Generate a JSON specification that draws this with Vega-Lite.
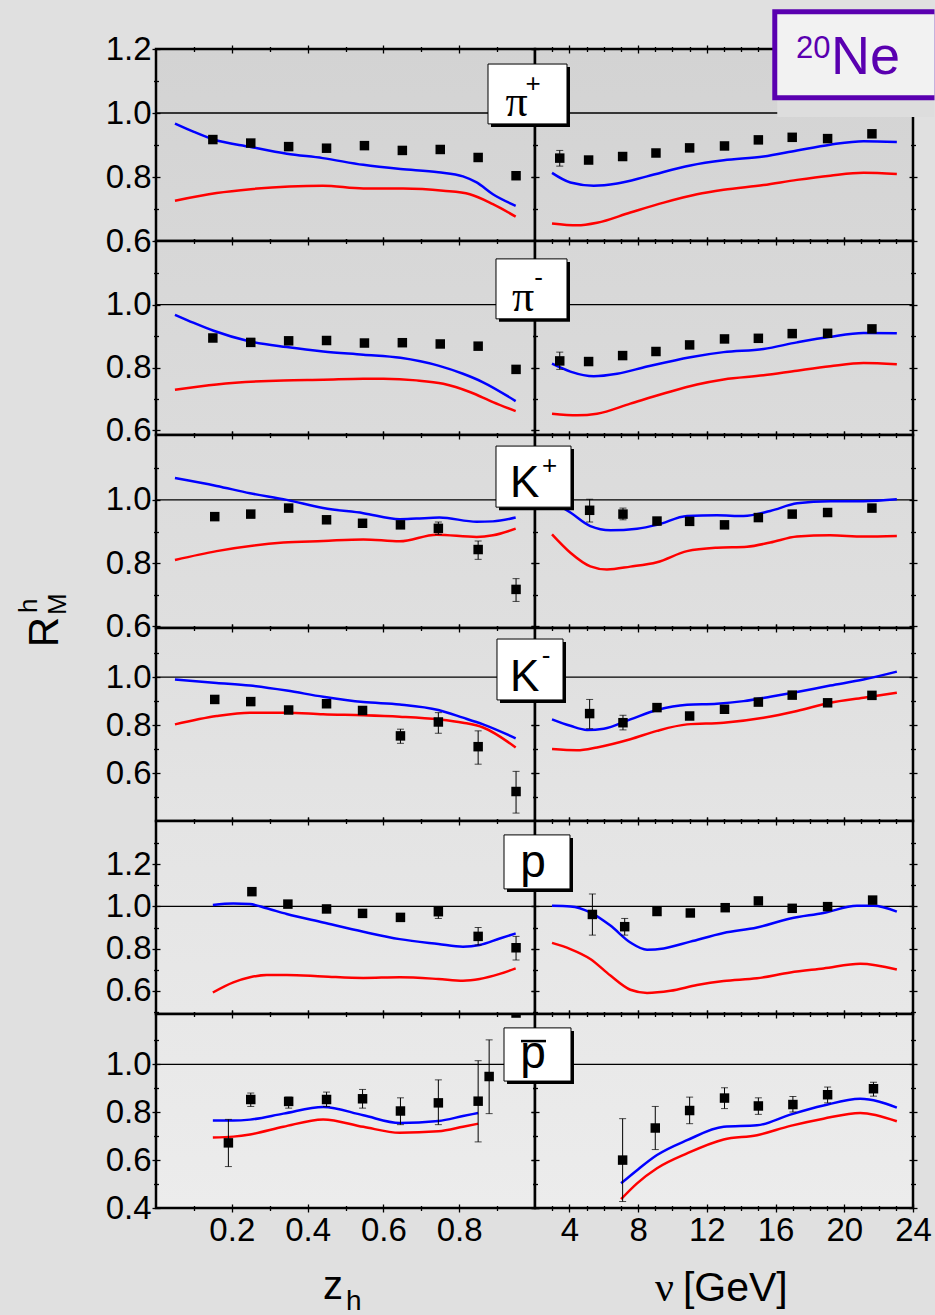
{
"$schema":"https://vega.github.io/schema/vega-lite/v6.json",
"background":"#e0e0e0",
"padding":{"left":14,"top":8,"right":0,"bottom":0},
"config":{
 "axis":{"domain":false,"grid":false,"tickColor":"black","tickWidth":1.3,"labelFont":"Liberation Sans","labelFontSize":33,"labelColor":"black","labelFlush":false,"labelOverlap":false,"labelBound":false},
 "concat":{"spacing":0},
 "line":{"strokeWidth":2.5,"interpolate":"monotone"}
},
"datasets":{
"pts":[
{"p":1,"s":"L","x":0.15,"y":0.917},{"p":1,"s":"L","x":0.25,"y":0.906},{"p":1,"s":"L","x":0.35,"y":0.895},{"p":1,"s":"L","x":0.45,"y":0.89},{"p":1,"s":"L","x":0.55,"y":0.898},{"p":1,"s":"L","x":0.65,"y":0.883},{"p":1,"s":"L","x":0.75,"y":0.886},{"p":1,"s":"L","x":0.85,"y":0.861},{"p":1,"s":"L","x":0.95,"y":0.804},
{"p":1,"s":"R","x":3.44,"y":0.859,"lo":0.834,"hi":0.883},{"p":1,"s":"R","x":5.12,"y":0.853},{"p":1,"s":"R","x":7.1,"y":0.864},{"p":1,"s":"R","x":9.04,"y":0.875},{"p":1,"s":"R","x":11.0,"y":0.891},{"p":1,"s":"R","x":13.03,"y":0.897},{"p":1,"s":"R","x":15.0,"y":0.916},{"p":1,"s":"R","x":16.97,"y":0.924},{"p":1,"s":"R","x":19.03,"y":0.92},{"p":1,"s":"R","x":21.61,"y":0.935},
{"p":2,"s":"L","x":0.15,"y":0.894},{"p":2,"s":"L","x":0.25,"y":0.88},{"p":2,"s":"L","x":0.35,"y":0.885},{"p":2,"s":"L","x":0.45,"y":0.886},{"p":2,"s":"L","x":0.55,"y":0.878},{"p":2,"s":"L","x":0.65,"y":0.879},{"p":2,"s":"L","x":0.75,"y":0.875},{"p":2,"s":"L","x":0.85,"y":0.868},{"p":2,"s":"L","x":0.95,"y":0.794},
{"p":2,"s":"R","x":3.44,"y":0.821,"lo":0.794,"hi":0.849},{"p":2,"s":"R","x":5.12,"y":0.819},{"p":2,"s":"R","x":7.1,"y":0.838},{"p":2,"s":"R","x":9.04,"y":0.851},{"p":2,"s":"R","x":11.0,"y":0.872},{"p":2,"s":"R","x":13.03,"y":0.891},{"p":2,"s":"R","x":15.0,"y":0.893},{"p":2,"s":"R","x":16.97,"y":0.908},{"p":2,"s":"R","x":19.03,"y":0.909},{"p":2,"s":"R","x":21.61,"y":0.923},
{"p":3,"s":"L","x":0.155,"y":0.947},{"p":3,"s":"L","x":0.25,"y":0.955},{"p":3,"s":"L","x":0.35,"y":0.974},{"p":3,"s":"L","x":0.45,"y":0.937},{"p":3,"s":"L","x":0.545,"y":0.926},{"p":3,"s":"L","x":0.645,"y":0.921},{"p":3,"s":"L","x":0.745,"y":0.91,"lo":0.891,"hi":0.93},{"p":3,"s":"L","x":0.85,"y":0.843,"lo":0.812,"hi":0.87},{"p":3,"s":"L","x":0.95,"y":0.717,"lo":0.679,"hi":0.751},
{"p":3,"s":"R","x":5.18,"y":0.967,"lo":0.93,"hi":1.002},{"p":3,"s":"R","x":7.12,"y":0.955,"lo":0.937,"hi":0.974},{"p":3,"s":"R","x":9.1,"y":0.933},{"p":3,"s":"R","x":11.0,"y":0.932},{"p":3,"s":"R","x":13.03,"y":0.921},{"p":3,"s":"R","x":15.0,"y":0.944},{"p":3,"s":"R","x":16.97,"y":0.955},{"p":3,"s":"R","x":19.03,"y":0.96},{"p":3,"s":"R","x":21.61,"y":0.974},
{"p":4,"s":"L","x":0.155,"y":0.907},{"p":4,"s":"L","x":0.25,"y":0.898},{"p":4,"s":"L","x":0.35,"y":0.863},{"p":4,"s":"L","x":0.45,"y":0.889},{"p":4,"s":"L","x":0.545,"y":0.861},{"p":4,"s":"L","x":0.645,"y":0.755,"lo":0.724,"hi":0.783},{"p":4,"s":"L","x":0.745,"y":0.813,"lo":0.766,"hi":0.852},{"p":4,"s":"L","x":0.85,"y":0.71,"lo":0.637,"hi":0.776},{"p":4,"s":"L","x":0.95,"y":0.523,"lo":0.433,"hi":0.607},
{"p":4,"s":"R","x":5.18,"y":0.848,"lo":0.785,"hi":0.907},{"p":4,"s":"R","x":7.12,"y":0.81,"lo":0.78,"hi":0.841},{"p":4,"s":"R","x":9.1,"y":0.873},{"p":4,"s":"R","x":11.0,"y":0.838},{"p":4,"s":"R","x":13.03,"y":0.866},{"p":4,"s":"R","x":15.0,"y":0.896},{"p":4,"s":"R","x":16.97,"y":0.925},{"p":4,"s":"R","x":19.03,"y":0.893},{"p":4,"s":"R","x":21.61,"y":0.924},
{"p":5,"s":"L","x":0.253,"y":1.07},{"p":5,"s":"L","x":0.348,"y":1.011},{"p":5,"s":"L","x":0.45,"y":0.988},{"p":5,"s":"L","x":0.545,"y":0.967},{"p":5,"s":"L","x":0.645,"y":0.948},{"p":5,"s":"L","x":0.745,"y":0.975,"lo":0.943,"hi":0.995},{"p":5,"s":"L","x":0.85,"y":0.858,"lo":0.817,"hi":0.9},{"p":5,"s":"L","x":0.95,"y":0.804,"lo":0.746,"hi":0.858},
{"p":5,"s":"R","x":5.34,"y":0.962,"lo":0.864,"hi":1.059},{"p":5,"s":"R","x":7.22,"y":0.904,"lo":0.864,"hi":0.943},{"p":5,"s":"R","x":9.1,"y":0.976},{"p":5,"s":"R","x":11.04,"y":0.969},{"p":5,"s":"R","x":13.07,"y":0.994},{"p":5,"s":"R","x":15.0,"y":1.026},{"p":5,"s":"R","x":16.97,"y":0.991},{"p":5,"s":"R","x":19.03,"y":0.999},{"p":5,"s":"R","x":21.65,"y":1.03},
{"p":6,"s":"L","x":0.191,"y":0.672,"lo":0.573,"hi":0.77},{"p":6,"s":"L","x":0.25,"y":0.853,"lo":0.824,"hi":0.88},{"p":6,"s":"L","x":0.35,"y":0.845,"lo":0.817,"hi":0.863},{"p":6,"s":"L","x":0.45,"y":0.853,"lo":0.824,"hi":0.884},{"p":6,"s":"L","x":0.545,"y":0.856,"lo":0.817,"hi":0.895},{"p":6,"s":"L","x":0.645,"y":0.805,"lo":0.748,"hi":0.86},{"p":6,"s":"L","x":0.745,"y":0.839,"lo":0.748,"hi":0.935},{"p":6,"s":"L","x":0.85,"y":0.846,"lo":0.676,"hi":1.015},{"p":6,"s":"L","x":0.879,"y":0.949,"lo":0.794,"hi":1.102},{"p":6,"s":"L","x":0.95,"y":1.214},
{"p":6,"s":"R","x":7.1,"y":0.6,"lo":0.427,"hi":0.773},{"p":6,"s":"R","x":9.0,"y":0.734,"lo":0.644,"hi":0.824},{"p":6,"s":"R","x":11.0,"y":0.807,"lo":0.752,"hi":0.863},{"p":6,"s":"R","x":13.03,"y":0.859,"lo":0.815,"hi":0.902},{"p":6,"s":"R","x":15.0,"y":0.826,"lo":0.791,"hi":0.86},{"p":6,"s":"R","x":17.01,"y":0.832,"lo":0.801,"hi":0.866},{"p":6,"s":"R","x":19.03,"y":0.873,"lo":0.839,"hi":0.905},{"p":6,"s":"R","x":21.7,"y":0.898,"lo":0.867,"hi":0.925}
],
"lines":[
{"p":1,"s":"L","m":"b","x":0.05,"y":0.967},{"p":1,"s":"L","m":"b","x":0.1,"y":0.941},{"p":1,"s":"L","m":"b","x":0.15,"y":0.918},{"p":1,"s":"L","m":"b","x":0.25,"y":0.894},{"p":1,"s":"L","m":"b","x":0.345,"y":0.873},{"p":1,"s":"L","m":"b","x":0.44,"y":0.859},{"p":1,"s":"L","m":"b","x":0.547,"y":0.838},{"p":1,"s":"L","m":"b","x":0.645,"y":0.825},{"p":1,"s":"L","m":"b","x":0.745,"y":0.815},{"p":1,"s":"L","m":"b","x":0.81,"y":0.802},{"p":1,"s":"L","m":"b","x":0.846,"y":0.783},{"p":1,"s":"L","m":"b","x":0.889,"y":0.746},{"p":1,"s":"L","m":"b","x":0.949,"y":0.71},
{"p":1,"s":"L","m":"r","x":0.05,"y":0.726},{"p":1,"s":"L","m":"r","x":0.16,"y":0.75},{"p":1,"s":"L","m":"r","x":0.25,"y":0.762},{"p":1,"s":"L","m":"r","x":0.44,"y":0.773},{"p":1,"s":"L","m":"r","x":0.547,"y":0.764},{"p":1,"s":"L","m":"r","x":0.652,"y":0.764},{"p":1,"s":"L","m":"r","x":0.758,"y":0.757},{"p":1,"s":"L","m":"r","x":0.828,"y":0.746},{"p":1,"s":"L","m":"r","x":0.889,"y":0.715},{"p":1,"s":"L","m":"r","x":0.949,"y":0.676},
{"p":1,"s":"R","m":"b","x":2.99,"y":0.813},{"p":1,"s":"R","m":"b","x":4.06,"y":0.783},{"p":1,"s":"R","m":"b","x":5.42,"y":0.773},{"p":1,"s":"R","m":"b","x":6.78,"y":0.78},{"p":1,"s":"R","m":"b","x":8.52,"y":0.802},{"p":1,"s":"R","m":"b","x":11.04,"y":0.836},{"p":1,"s":"R","m":"b","x":12.98,"y":0.852},{"p":1,"s":"R","m":"b","x":15.3,"y":0.864},{"p":1,"s":"R","m":"b","x":17.25,"y":0.883},{"p":1,"s":"R","m":"b","x":19.18,"y":0.901},{"p":1,"s":"R","m":"b","x":21.12,"y":0.912},{"p":1,"s":"R","m":"b","x":23.06,"y":0.909},
{"p":1,"s":"R","m":"r","x":2.99,"y":0.655},{"p":1,"s":"R","m":"r","x":4.45,"y":0.649},{"p":1,"s":"R","m":"r","x":5.61,"y":0.657},{"p":1,"s":"R","m":"r","x":7.55,"y":0.689},{"p":1,"s":"R","m":"r","x":9.49,"y":0.72},{"p":1,"s":"R","m":"r","x":11.43,"y":0.746},{"p":1,"s":"R","m":"r","x":12.98,"y":0.76},{"p":1,"s":"R","m":"r","x":15.3,"y":0.775},{"p":1,"s":"R","m":"r","x":17.25,"y":0.791},{"p":1,"s":"R","m":"r","x":19.18,"y":0.804},{"p":1,"s":"R","m":"r","x":21.12,"y":0.813},{"p":1,"s":"R","m":"r","x":23.06,"y":0.809},
{"p":2,"s":"L","m":"b","x":0.05,"y":0.968},{"p":2,"s":"L","m":"b","x":0.1,"y":0.942},{"p":2,"s":"L","m":"b","x":0.152,"y":0.917},{"p":2,"s":"L","m":"b","x":0.248,"y":0.883},{"p":2,"s":"L","m":"b","x":0.345,"y":0.865},{"p":2,"s":"L","m":"b","x":0.441,"y":0.851},{"p":2,"s":"L","m":"b","x":0.547,"y":0.841},{"p":2,"s":"L","m":"b","x":0.645,"y":0.831},{"p":2,"s":"L","m":"b","x":0.745,"y":0.806},{"p":2,"s":"L","m":"b","x":0.81,"y":0.78},{"p":2,"s":"L","m":"b","x":0.863,"y":0.753},{"p":2,"s":"L","m":"b","x":0.949,"y":0.693},
{"p":2,"s":"L","m":"r","x":0.05,"y":0.729},{"p":2,"s":"L","m":"r","x":0.16,"y":0.746},{"p":2,"s":"L","m":"r","x":0.336,"y":0.759},{"p":2,"s":"L","m":"r","x":0.441,"y":0.761},{"p":2,"s":"L","m":"r","x":0.547,"y":0.764},{"p":2,"s":"L","m":"r","x":0.6,"y":0.764},{"p":2,"s":"L","m":"r","x":0.687,"y":0.759},{"p":2,"s":"L","m":"r","x":0.758,"y":0.748},{"p":2,"s":"L","m":"r","x":0.828,"y":0.722},{"p":2,"s":"L","m":"r","x":0.889,"y":0.69},{"p":2,"s":"L","m":"r","x":0.949,"y":0.661},
{"p":2,"s":"R","m":"b","x":2.99,"y":0.812},{"p":2,"s":"R","m":"b","x":4.06,"y":0.787},{"p":2,"s":"R","m":"b","x":5.42,"y":0.772},{"p":2,"s":"R","m":"b","x":6.78,"y":0.78},{"p":2,"s":"R","m":"b","x":8.52,"y":0.803},{"p":2,"s":"R","m":"b","x":11.04,"y":0.833},{"p":2,"s":"R","m":"b","x":12.98,"y":0.849},{"p":2,"s":"R","m":"b","x":15.3,"y":0.859},{"p":2,"s":"R","m":"b","x":17.25,"y":0.88},{"p":2,"s":"R","m":"b","x":19.18,"y":0.898},{"p":2,"s":"R","m":"b","x":21.12,"y":0.91},{"p":2,"s":"R","m":"b","x":23.06,"y":0.909},
{"p":2,"s":"R","m":"r","x":2.99,"y":0.653},{"p":2,"s":"R","m":"r","x":4.45,"y":0.648},{"p":2,"s":"R","m":"r","x":5.61,"y":0.653},{"p":2,"s":"R","m":"r","x":7.55,"y":0.685},{"p":2,"s":"R","m":"r","x":9.49,"y":0.717},{"p":2,"s":"R","m":"r","x":11.43,"y":0.746},{"p":2,"s":"R","m":"r","x":12.98,"y":0.762},{"p":2,"s":"R","m":"r","x":15.3,"y":0.775},{"p":2,"s":"R","m":"r","x":17.25,"y":0.79},{"p":2,"s":"R","m":"r","x":19.18,"y":0.804},{"p":2,"s":"R","m":"r","x":21.12,"y":0.814},{"p":2,"s":"R","m":"r","x":23.06,"y":0.81},
{"p":3,"s":"L","m":"b","x":0.05,"y":1.069},{"p":3,"s":"L","m":"b","x":0.16,"y":1.044},{"p":3,"s":"L","m":"b","x":0.248,"y":1.021},{"p":3,"s":"L","m":"b","x":0.345,"y":1.0},{"p":3,"s":"L","m":"b","x":0.441,"y":0.974},{"p":3,"s":"L","m":"b","x":0.547,"y":0.958},{"p":3,"s":"L","m":"b","x":0.643,"y":0.939},{"p":3,"s":"L","m":"b","x":0.687,"y":0.941},{"p":3,"s":"L","m":"b","x":0.748,"y":0.944},{"p":3,"s":"L","m":"b","x":0.846,"y":0.931},{"p":3,"s":"L","m":"b","x":0.889,"y":0.932},{"p":3,"s":"L","m":"b","x":0.949,"y":0.944},
{"p":3,"s":"L","m":"r","x":0.05,"y":0.81},{"p":3,"s":"L","m":"r","x":0.16,"y":0.838},{"p":3,"s":"L","m":"r","x":0.336,"y":0.865},{"p":3,"s":"L","m":"r","x":0.441,"y":0.87},{"p":3,"s":"L","m":"r","x":0.547,"y":0.875},{"p":3,"s":"L","m":"r","x":0.643,"y":0.869},{"p":3,"s":"L","m":"r","x":0.74,"y":0.89},{"p":3,"s":"L","m":"r","x":0.846,"y":0.883},{"p":3,"s":"L","m":"r","x":0.889,"y":0.888},{"p":3,"s":"L","m":"r","x":0.949,"y":0.909},
{"p":3,"s":"R","m":"b","x":2.99,"y":0.995},{"p":3,"s":"R","m":"b","x":4.06,"y":0.96},{"p":3,"s":"R","m":"b","x":5.22,"y":0.917},{"p":3,"s":"R","m":"b","x":6.39,"y":0.904},{"p":3,"s":"R","m":"b","x":7.94,"y":0.909},{"p":3,"s":"R","m":"b","x":9.1,"y":0.921},{"p":3,"s":"R","m":"b","x":10.85,"y":0.949},{"p":3,"s":"R","m":"b","x":12.59,"y":0.951},{"p":3,"s":"R","m":"b","x":14.14,"y":0.949},{"p":3,"s":"R","m":"b","x":15.69,"y":0.965},{"p":3,"s":"R","m":"b","x":17.25,"y":0.989},{"p":3,"s":"R","m":"b","x":19.18,"y":0.996},{"p":3,"s":"R","m":"b","x":21.12,"y":0.996},{"p":3,"s":"R","m":"b","x":23.06,"y":1.002},
{"p":3,"s":"R","m":"r","x":2.99,"y":0.891},{"p":3,"s":"R","m":"r","x":4.06,"y":0.833},{"p":3,"s":"R","m":"r","x":5.22,"y":0.79},{"p":3,"s":"R","m":"r","x":6.19,"y":0.78},{"p":3,"s":"R","m":"r","x":7.55,"y":0.789},{"p":3,"s":"R","m":"r","x":9.1,"y":0.803},{"p":3,"s":"R","m":"r","x":10.85,"y":0.838},{"p":3,"s":"R","m":"r","x":12.59,"y":0.849},{"p":3,"s":"R","m":"r","x":14.34,"y":0.852},{"p":3,"s":"R","m":"r","x":15.69,"y":0.865},{"p":3,"s":"R","m":"r","x":17.25,"y":0.884},{"p":3,"s":"R","m":"r","x":19.18,"y":0.888},{"p":3,"s":"R","m":"r","x":21.12,"y":0.884},{"p":3,"s":"R","m":"r","x":23.06,"y":0.886},
{"p":4,"s":"L","m":"b","x":0.05,"y":0.99},{"p":4,"s":"L","m":"b","x":0.16,"y":0.976},{"p":4,"s":"L","m":"b","x":0.248,"y":0.965},{"p":4,"s":"L","m":"b","x":0.345,"y":0.944},{"p":4,"s":"L","m":"b","x":0.441,"y":0.918},{"p":4,"s":"L","m":"b","x":0.547,"y":0.896},{"p":4,"s":"L","m":"b","x":0.643,"y":0.886},{"p":4,"s":"L","m":"b","x":0.745,"y":0.863},{"p":4,"s":"L","m":"b","x":0.81,"y":0.831},{"p":4,"s":"L","m":"b","x":0.863,"y":0.803},{"p":4,"s":"L","m":"b","x":0.949,"y":0.745},
{"p":4,"s":"L","m":"r","x":0.05,"y":0.803},{"p":4,"s":"L","m":"r","x":0.16,"y":0.838},{"p":4,"s":"L","m":"r","x":0.248,"y":0.852},{"p":4,"s":"L","m":"r","x":0.345,"y":0.852},{"p":4,"s":"L","m":"r","x":0.441,"y":0.845},{"p":4,"s":"L","m":"r","x":0.547,"y":0.841},{"p":4,"s":"L","m":"r","x":0.643,"y":0.835},{"p":4,"s":"L","m":"r","x":0.745,"y":0.824},{"p":4,"s":"L","m":"r","x":0.81,"y":0.81},{"p":4,"s":"L","m":"r","x":0.863,"y":0.79},{"p":4,"s":"L","m":"r","x":0.949,"y":0.707},
{"p":4,"s":"R","m":"b","x":2.99,"y":0.824},{"p":4,"s":"R","m":"b","x":4.06,"y":0.797},{"p":4,"s":"R","m":"b","x":5.03,"y":0.78},{"p":4,"s":"R","m":"b","x":6.0,"y":0.785},{"p":4,"s":"R","m":"b","x":7.55,"y":0.824},{"p":4,"s":"R","m":"b","x":9.1,"y":0.863},{"p":4,"s":"R","m":"b","x":10.85,"y":0.885},{"p":4,"s":"R","m":"b","x":12.59,"y":0.889},{"p":4,"s":"R","m":"b","x":14.14,"y":0.9},{"p":4,"s":"R","m":"b","x":15.69,"y":0.918},{"p":4,"s":"R","m":"b","x":17.25,"y":0.938},{"p":4,"s":"R","m":"b","x":19.18,"y":0.965},{"p":4,"s":"R","m":"b","x":21.12,"y":0.99},{"p":4,"s":"R","m":"b","x":23.06,"y":1.023},
{"p":4,"s":"R","m":"r","x":2.99,"y":0.7},{"p":4,"s":"R","m":"r","x":4.45,"y":0.695},{"p":4,"s":"R","m":"r","x":5.61,"y":0.707},{"p":4,"s":"R","m":"r","x":7.55,"y":0.741},{"p":4,"s":"R","m":"r","x":9.1,"y":0.776},{"p":4,"s":"R","m":"r","x":10.85,"y":0.803},{"p":4,"s":"R","m":"r","x":12.98,"y":0.81},{"p":4,"s":"R","m":"r","x":15.3,"y":0.831},{"p":4,"s":"R","m":"r","x":17.25,"y":0.859},{"p":4,"s":"R","m":"r","x":19.18,"y":0.893},{"p":4,"s":"R","m":"r","x":21.12,"y":0.914},{"p":4,"s":"R","m":"r","x":23.06,"y":0.935},
{"p":5,"s":"L","m":"b","x":0.15,"y":1.007},{"p":5,"s":"L","m":"b","x":0.204,"y":1.014},{"p":5,"s":"L","m":"b","x":0.248,"y":1.011},{"p":5,"s":"L","m":"b","x":0.292,"y":0.991},{"p":5,"s":"L","m":"b","x":0.345,"y":0.964},{"p":5,"s":"L","m":"b","x":0.441,"y":0.924},{"p":5,"s":"L","m":"b","x":0.547,"y":0.88},{"p":5,"s":"L","m":"b","x":0.643,"y":0.845},{"p":5,"s":"L","m":"b","x":0.745,"y":0.822},{"p":5,"s":"L","m":"b","x":0.81,"y":0.809},{"p":5,"s":"L","m":"b","x":0.854,"y":0.817},{"p":5,"s":"L","m":"b","x":0.907,"y":0.848},{"p":5,"s":"L","m":"b","x":0.949,"y":0.872},
{"p":5,"s":"L","m":"r","x":0.15,"y":0.592},{"p":5,"s":"L","m":"r","x":0.204,"y":0.64},{"p":5,"s":"L","m":"r","x":0.248,"y":0.664},{"p":5,"s":"L","m":"r","x":0.292,"y":0.675},{"p":5,"s":"L","m":"r","x":0.345,"y":0.675},{"p":5,"s":"L","m":"r","x":0.441,"y":0.668},{"p":5,"s":"L","m":"r","x":0.547,"y":0.661},{"p":5,"s":"L","m":"r","x":0.643,"y":0.664},{"p":5,"s":"L","m":"r","x":0.745,"y":0.656},{"p":5,"s":"L","m":"r","x":0.81,"y":0.648},{"p":5,"s":"L","m":"r","x":0.854,"y":0.656},{"p":5,"s":"L","m":"r","x":0.907,"y":0.68},{"p":5,"s":"L","m":"r","x":0.949,"y":0.706},
{"p":5,"s":"R","m":"b","x":2.99,"y":1.003},{"p":5,"s":"R","m":"b","x":4.06,"y":1.0},{"p":5,"s":"R","m":"b","x":5.22,"y":0.972},{"p":5,"s":"R","m":"b","x":6.39,"y":0.909},{"p":5,"s":"R","m":"b","x":7.55,"y":0.829},{"p":5,"s":"R","m":"b","x":8.52,"y":0.795},{"p":5,"s":"R","m":"b","x":9.49,"y":0.801},{"p":5,"s":"R","m":"b","x":11.04,"y":0.833},{"p":5,"s":"R","m":"b","x":12.98,"y":0.874},{"p":5,"s":"R","m":"b","x":14.92,"y":0.9},{"p":5,"s":"R","m":"b","x":16.86,"y":0.943},{"p":5,"s":"R","m":"b","x":18.79,"y":0.969},{"p":5,"s":"R","m":"b","x":20.74,"y":1.003},{"p":5,"s":"R","m":"b","x":21.7,"y":1.003},{"p":5,"s":"R","m":"b","x":23.06,"y":0.975},
{"p":5,"s":"R","m":"r","x":2.99,"y":0.827},{"p":5,"s":"R","m":"r","x":4.06,"y":0.798},{"p":5,"s":"R","m":"r","x":5.22,"y":0.751},{"p":5,"s":"R","m":"r","x":6.39,"y":0.672},{"p":5,"s":"R","m":"r","x":7.55,"y":0.605},{"p":5,"s":"R","m":"r","x":8.52,"y":0.59},{"p":5,"s":"R","m":"r","x":9.88,"y":0.6},{"p":5,"s":"R","m":"r","x":11.43,"y":0.627},{"p":5,"s":"R","m":"r","x":12.98,"y":0.646},{"p":5,"s":"R","m":"r","x":14.92,"y":0.659},{"p":5,"s":"R","m":"r","x":16.86,"y":0.687},{"p":5,"s":"R","m":"r","x":18.79,"y":0.706},{"p":5,"s":"R","m":"r","x":20.93,"y":0.728},{"p":5,"s":"R","m":"r","x":23.06,"y":0.701},
{"p":6,"s":"L","m":"b","x":0.15,"y":0.765},{"p":6,"s":"L","m":"b","x":0.204,"y":0.765},{"p":6,"s":"L","m":"b","x":0.248,"y":0.769},{"p":6,"s":"L","m":"b","x":0.336,"y":0.794},{"p":6,"s":"L","m":"b","x":0.441,"y":0.822},{"p":6,"s":"L","m":"b","x":0.547,"y":0.787},{"p":6,"s":"L","m":"b","x":0.643,"y":0.755},{"p":6,"s":"L","m":"b","x":0.745,"y":0.763},{"p":6,"s":"L","m":"b","x":0.81,"y":0.784},{"p":6,"s":"L","m":"b","x":0.85,"y":0.797},
{"p":6,"s":"L","m":"r","x":0.15,"y":0.694},{"p":6,"s":"L","m":"r","x":0.204,"y":0.698},{"p":6,"s":"L","m":"r","x":0.248,"y":0.707},{"p":6,"s":"L","m":"r","x":0.336,"y":0.739},{"p":6,"s":"L","m":"r","x":0.441,"y":0.77},{"p":6,"s":"L","m":"r","x":0.547,"y":0.739},{"p":6,"s":"L","m":"r","x":0.643,"y":0.714},{"p":6,"s":"L","m":"r","x":0.745,"y":0.72},{"p":6,"s":"L","m":"r","x":0.81,"y":0.739},{"p":6,"s":"L","m":"r","x":0.85,"y":0.752},
{"p":6,"s":"R","m":"b","x":7.01,"y":0.503},{"p":6,"s":"R","m":"b","x":7.94,"y":0.558},{"p":6,"s":"R","m":"b","x":9.1,"y":0.621},{"p":6,"s":"R","m":"b","x":10.85,"y":0.683},{"p":6,"s":"R","m":"b","x":12.98,"y":0.739},{"p":6,"s":"R","m":"b","x":14.92,"y":0.745},{"p":6,"s":"R","m":"b","x":16.86,"y":0.79},{"p":6,"s":"R","m":"b","x":18.79,"y":0.828},{"p":6,"s":"R","m":"b","x":20.93,"y":0.856},{"p":6,"s":"R","m":"b","x":23.06,"y":0.819},
{"p":6,"s":"R","m":"r","x":7.01,"y":0.437},{"p":6,"s":"R","m":"r","x":7.94,"y":0.503},{"p":6,"s":"R","m":"r","x":9.1,"y":0.566},{"p":6,"s":"R","m":"r","x":10.85,"y":0.628},{"p":6,"s":"R","m":"r","x":12.98,"y":0.686},{"p":6,"s":"R","m":"r","x":14.92,"y":0.704},{"p":6,"s":"R","m":"r","x":16.86,"y":0.743},{"p":6,"s":"R","m":"r","x":18.79,"y":0.773},{"p":6,"s":"R","m":"r","x":20.93,"y":0.797},{"p":6,"s":"R","m":"r","x":23.06,"y":0.762}
]
},
"columns":2,
"spacing":0,
"bounds":"flush",
"concat":[
{"width":379,"height":192,"view":{"fill":{"gradient":"linear","x1":0,"y1":0,"x2":0,"y2":1,"stops":[{"offset":0,"color":"#d3d3d3"},{"offset":1,"color":"#d7d7d7"}]},"stroke":"black","strokeWidth":2.5},"resolve":{"axis":{"x":"independent","y":"independent"}},
"layer":[
{"data":{"values":[{}]},"mark":{"type":"rule","color":"black","strokeWidth":1.3},"encoding":{"y":{"datum":1,"type":"quantitative","scale":{"domain":[0.6,1.2],"nice":false,"zero":false},"axis":{"orient":"left","values":[0.6,0.8,1.0,1.2],"offset":-4,"tickSize":8,"labels":true,"labelPadding":1,"format":".1f","title":null}}}},
{"data":{"name":"lines"},"transform":[{"filter":"datum.p==1 && datum.s=='L' && datum.m=='b'"}],"mark":{"type":"line","color":"#0000ff"},"encoding":{"x":{"field":"x","type":"quantitative","scale":{"domain":[0,1],"nice":false,"zero":false},"axis":{"orient":"bottom","values":[0.2,0.4,0.6,0.8],"offset":-4,"tickSize":8,"labels":false,"title":null}},"y":{"field":"y","type":"quantitative","scale":{"domain":[0.6,1.2],"nice":false,"zero":false},"axis":{"orient":"right","values":[0.6,0.8,1.0,1.2],"offset":-4,"tickSize":8,"labels":false,"title":null}}}},
{"data":{"name":"lines"},"transform":[{"filter":"datum.p==1 && datum.s=='L' && datum.m=='r'"}],"mark":{"type":"line","color":"#ff0000"},"encoding":{"x":{"field":"x","type":"quantitative","scale":{"domain":[0,1],"nice":false,"zero":false},"axis":{"orient":"top","values":[0.2,0.4,0.6,0.8],"offset":-4,"tickSize":8,"labels":false,"title":null}},"y":{"field":"y","type":"quantitative","scale":{"domain":[0.6,1.2],"nice":false,"zero":false},"axis":{"orient":"left","values":[0.7,0.9,1.1],"offset":-2.5,"tickSize":5,"labels":false,"title":null}}}},
{"data":{"name":"pts"},"transform":[{"filter":"datum.p==1 && datum.s=='L' && isValid(datum.lo)"}],"mark":{"type":"rule","color":"black","strokeWidth":1},"encoding":{"x":{"field":"x","type":"quantitative","scale":{"domain":[0,1],"nice":false,"zero":false},"axis":{"orient":"bottom","values":[0.1,0.3,0.5,0.7,0.9],"offset":-2.5,"tickSize":5,"labels":false,"title":null}},"y":{"field":"lo","type":"quantitative","scale":{"domain":[0.6,1.2],"nice":false,"zero":false},"axis":{"orient":"right","values":[0.7,0.9,1.1],"offset":-2.5,"tickSize":5,"labels":false,"title":null}},"y2":{"field":"hi"}}},
{"data":{"name":"pts"},"transform":[{"filter":"datum.p==1 && datum.s=='L'"}],"mark":{"type":"square","color":"black","size":90,"opacity":1},"encoding":{"x":{"field":"x","type":"quantitative","scale":{"domain":[0,1],"nice":false,"zero":false},"axis":{"orient":"top","values":[0.1,0.3,0.5,0.7,0.9],"offset":-2.5,"tickSize":5,"labels":false,"title":null}},"y":{"field":"y","type":"quantitative","scale":{"domain":[0.6,1.2],"nice":false,"zero":false},"axis":null}}}
]},
{"width":378,"height":192,"view":{"fill":{"gradient":"linear","x1":0,"y1":0,"x2":0,"y2":1,"stops":[{"offset":0,"color":"#d3d3d3"},{"offset":1,"color":"#d7d7d7"}]},"stroke":"black","strokeWidth":2.5},"resolve":{"axis":{"x":"independent","y":"independent"}},
"layer":[
{"data":{"values":[{}]},"mark":{"type":"rule","color":"black","strokeWidth":1.3},"encoding":{"y":{"datum":1,"type":"quantitative","scale":{"domain":[0.6,1.2],"nice":false,"zero":false},"axis":{"orient":"left","values":[0.6,0.8,1.0,1.2],"offset":-4,"tickSize":8,"labels":false,"title":null}}}},
{"data":{"name":"lines"},"transform":[{"filter":"datum.p==1 && datum.s=='R' && datum.m=='b'"}],"mark":{"type":"line","color":"#0000ff"},"encoding":{"x":{"field":"x","type":"quantitative","scale":{"domain":[2,24],"nice":false,"zero":false},"axis":{"orient":"bottom","values":[4,8,12,16,20],"offset":-4,"tickSize":8,"labels":false,"title":null}},"y":{"field":"y","type":"quantitative","scale":{"domain":[0.6,1.2],"nice":false,"zero":false},"axis":{"orient":"right","values":[0.6,0.8,1.0,1.2],"offset":-4,"tickSize":8,"labels":false,"title":null}}}},
{"data":{"name":"lines"},"transform":[{"filter":"datum.p==1 && datum.s=='R' && datum.m=='r'"}],"mark":{"type":"line","color":"#ff0000"},"encoding":{"x":{"field":"x","type":"quantitative","scale":{"domain":[2,24],"nice":false,"zero":false},"axis":{"orient":"top","values":[4,8,12,16,20],"offset":-4,"tickSize":8,"labels":false,"title":null}},"y":{"field":"y","type":"quantitative","scale":{"domain":[0.6,1.2],"nice":false,"zero":false},"axis":{"orient":"left","values":[0.7,0.9,1.1],"offset":-2.5,"tickSize":5,"labels":false,"title":null}}}},
{"data":{"name":"pts"},"transform":[{"filter":"datum.p==1 && datum.s=='R' && isValid(datum.lo)"}],"mark":{"type":"rule","color":"black","strokeWidth":1},"encoding":{"x":{"field":"x","type":"quantitative","scale":{"domain":[2,24],"nice":false,"zero":false},"axis":{"orient":"bottom","values":[3,5,6,7,9,10,11,13,14,15,17,18,19,21,22,23],"offset":-2.5,"tickSize":5,"labels":false,"title":null}},"y":{"field":"lo","type":"quantitative","scale":{"domain":[0.6,1.2],"nice":false,"zero":false},"axis":{"orient":"right","values":[0.7,0.9,1.1],"offset":-2.5,"tickSize":5,"labels":false,"title":null}},"y2":{"field":"hi"}}},
{"data":{"name":"pts"},"transform":[{"filter":"datum.p==1 && datum.s=='R' && isValid(datum.lo)"},{"fold":["lo","hi"],"as":["k","v"]}],"mark":{"type":"tick","orient":"horizontal","size":7,"thickness":1,"color":"black"},"encoding":{"x":{"field":"x","type":"quantitative","scale":{"domain":[2,24],"nice":false,"zero":false},"axis":null},"y":{"field":"v","type":"quantitative","scale":{"domain":[0.6,1.2],"nice":false,"zero":false},"axis":null}}},
{"data":{"name":"pts"},"transform":[{"filter":"datum.p==1 && datum.s=='R'"}],"mark":{"type":"square","color":"black","size":90,"opacity":1},"encoding":{"x":{"field":"x","type":"quantitative","scale":{"domain":[2,24],"nice":false,"zero":false},"axis":{"orient":"top","values":[3,5,6,7,9,10,11,13,14,15,17,18,19,21,22,23],"offset":-2.5,"tickSize":5,"labels":false,"title":null}},"y":{"field":"y","type":"quantitative","scale":{"domain":[0.6,1.2],"nice":false,"zero":false},"axis":null}}},
{"data":{"values":[{}]},"mark":{"type":"rect","fill":"black","xOffset":3,"x2Offset":3,"yOffset":3,"y2Offset":3},"encoding":{"x":{"datum":-0.735,"type":"quantitative","scale":{"domain":[2,24],"nice":false,"zero":false},"axis":null},"x2":{"datum":3.862},"y":{"datum":1.153,"type":"quantitative","scale":{"domain":[0.6,1.2],"nice":false,"zero":false},"axis":null},"y2":{"datum":0.966}}},
{"data":{"values":[{}]},"mark":{"type":"rect","fill":"white","stroke":"black","strokeWidth":1},"encoding":{"x":{"datum":-0.735,"type":"quantitative","scale":{"domain":[2,24],"nice":false,"zero":false},"axis":null},"x2":{"datum":3.862},"y":{"datum":1.153,"type":"quantitative","scale":{"domain":[0.6,1.2],"nice":false,"zero":false},"axis":null},"y2":{"datum":0.966}}},
{"data":{"values":[{}]},"mark":{"type":"text","text":"π","font":"Liberation Serif","fontSize":44,"align":"center","baseline":"alphabetic","color":"black"},"encoding":{"x":{"datum":0.923,"type":"quantitative","scale":{"domain":[2,24],"nice":false,"zero":false},"axis":null},"y":{"datum":0.991,"type":"quantitative","scale":{"domain":[0.6,1.2],"nice":false,"zero":false},"axis":null}}},
{"data":{"values":[{}]},"mark":{"type":"text","text":"+","font":"Liberation Sans","fontSize":26,"align":"center","baseline":"alphabetic","color":"black"},"encoding":{"x":{"datum":1.884,"type":"quantitative","scale":{"domain":[2,24],"nice":false,"zero":false},"axis":null},"y":{"datum":1.066,"type":"quantitative","scale":{"domain":[0.6,1.2],"nice":false,"zero":false},"axis":null}}},
{"data":{"values":[{}]},"mark":{"type":"rect","fill":"#dddddd"},"encoding":{"x":{"datum":16.1,"type":"quantitative","scale":{"domain":[2,24],"nice":false,"zero":false},"axis":null},"x2":{"datum":25.25},"y":{"datum":1.32,"type":"quantitative","scale":{"domain":[0.6,1.2],"nice":false,"zero":false},"axis":null},"y2":{"datum":0.9875}}},
{"data":{"values":[{}]},"mark":{"type":"rect","fill":"#5a00b0"},"encoding":{"x":{"datum":15.81,"type":"quantitative","scale":{"domain":[2,24],"nice":false,"zero":false},"axis":null},"x2":{"datum":25.25},"y":{"datum":1.324,"type":"quantitative","scale":{"domain":[0.6,1.2],"nice":false,"zero":false},"axis":null},"y2":{"datum":1.0397}}},
{"data":{"values":[{}]},"mark":{"type":"rect","fill":"#f2f2f2"},"encoding":{"x":{"datum":16.1,"type":"quantitative","scale":{"domain":[2,24],"nice":false,"zero":false},"axis":null},"x2":{"datum":25.25},"y":{"datum":1.3084,"type":"quantitative","scale":{"domain":[0.6,1.2],"nice":false,"zero":false},"axis":null},"y2":{"datum":1.0553}}},
{"data":{"values":[{}]},"mark":{"type":"text","text":"20","font":"Liberation Sans","fontSize":31,"align":"left","baseline":"alphabetic","color":"#5a00b0"},"encoding":{"x":{"datum":17.19,"type":"quantitative","scale":{"domain":[2,24],"nice":false,"zero":false},"axis":null},"y":{"datum":1.171,"type":"quantitative","scale":{"domain":[0.6,1.2],"nice":false,"zero":false},"axis":null}}},
{"data":{"values":[{}]},"mark":{"type":"text","text":"Ne","font":"Liberation Sans","fontSize":54,"align":"left","baseline":"alphabetic","color":"#5a00b0"},"encoding":{"x":{"datum":19.23,"type":"quantitative","scale":{"domain":[2,24],"nice":false,"zero":false},"axis":null},"y":{"datum":1.121,"type":"quantitative","scale":{"domain":[0.6,1.2],"nice":false,"zero":false},"axis":null}}}
]},
{"width":379,"height":194,"view":{"fill":{"gradient":"linear","x1":0,"y1":0,"x2":0,"y2":1,"stops":[{"offset":0,"color":"#d7d7d7"},{"offset":1,"color":"#dbdbdb"}]},"stroke":"black","strokeWidth":2.5},"resolve":{"axis":{"x":"independent","y":"independent"}},
"layer":[
{"data":{"values":[{}]},"mark":{"type":"rule","color":"black","strokeWidth":1.3},"encoding":{"y":{"datum":1,"type":"quantitative","scale":{"domain":[0.585,1.203],"nice":false,"zero":false},"axis":{"orient":"left","values":[0.6,0.8,1.0],"offset":-4,"tickSize":8,"labels":true,"labelPadding":1,"format":".1f","title":null}}}},
{"data":{"name":"lines"},"transform":[{"filter":"datum.p==2 && datum.s=='L' && datum.m=='b'"}],"mark":{"type":"line","color":"#0000ff"},"encoding":{"x":{"field":"x","type":"quantitative","scale":{"domain":[0,1],"nice":false,"zero":false},"axis":{"orient":"bottom","values":[0.2,0.4,0.6,0.8],"offset":-4,"tickSize":8,"labels":false,"title":null}},"y":{"field":"y","type":"quantitative","scale":{"domain":[0.585,1.203],"nice":false,"zero":false},"axis":{"orient":"right","values":[0.6,0.8,1.0],"offset":-4,"tickSize":8,"labels":false,"title":null}}}},
{"data":{"name":"lines"},"transform":[{"filter":"datum.p==2 && datum.s=='L' && datum.m=='r'"}],"mark":{"type":"line","color":"#ff0000"},"encoding":{"x":{"field":"x","type":"quantitative","scale":{"domain":[0,1],"nice":false,"zero":false},"axis":{"orient":"top","values":[0.2,0.4,0.6,0.8],"offset":-4,"tickSize":8,"labels":false,"title":null}},"y":{"field":"y","type":"quantitative","scale":{"domain":[0.585,1.203],"nice":false,"zero":false},"axis":{"orient":"left","values":[0.7,0.9,1.1],"offset":-2.5,"tickSize":5,"labels":false,"title":null}}}},
{"data":{"name":"pts"},"transform":[{"filter":"datum.p==2 && datum.s=='L' && isValid(datum.lo)"}],"mark":{"type":"rule","color":"black","strokeWidth":1},"encoding":{"x":{"field":"x","type":"quantitative","scale":{"domain":[0,1],"nice":false,"zero":false},"axis":{"orient":"bottom","values":[0.1,0.3,0.5,0.7,0.9],"offset":-2.5,"tickSize":5,"labels":false,"title":null}},"y":{"field":"lo","type":"quantitative","scale":{"domain":[0.585,1.203],"nice":false,"zero":false},"axis":{"orient":"right","values":[0.7,0.9,1.1],"offset":-2.5,"tickSize":5,"labels":false,"title":null}},"y2":{"field":"hi"}}},
{"data":{"name":"pts"},"transform":[{"filter":"datum.p==2 && datum.s=='L'"}],"mark":{"type":"square","color":"black","size":90,"opacity":1},"encoding":{"x":{"field":"x","type":"quantitative","scale":{"domain":[0,1],"nice":false,"zero":false},"axis":{"orient":"top","values":[0.1,0.3,0.5,0.7,0.9],"offset":-2.5,"tickSize":5,"labels":false,"title":null}},"y":{"field":"y","type":"quantitative","scale":{"domain":[0.585,1.203],"nice":false,"zero":false},"axis":null}}}
]},
{"width":378,"height":194,"view":{"fill":{"gradient":"linear","x1":0,"y1":0,"x2":0,"y2":1,"stops":[{"offset":0,"color":"#d7d7d7"},{"offset":1,"color":"#dbdbdb"}]},"stroke":"black","strokeWidth":2.5},"resolve":{"axis":{"x":"independent","y":"independent"}},
"layer":[
{"data":{"values":[{}]},"mark":{"type":"rule","color":"black","strokeWidth":1.3},"encoding":{"y":{"datum":1,"type":"quantitative","scale":{"domain":[0.585,1.203],"nice":false,"zero":false},"axis":{"orient":"left","values":[0.6,0.8,1.0],"offset":-4,"tickSize":8,"labels":false,"title":null}}}},
{"data":{"name":"lines"},"transform":[{"filter":"datum.p==2 && datum.s=='R' && datum.m=='b'"}],"mark":{"type":"line","color":"#0000ff"},"encoding":{"x":{"field":"x","type":"quantitative","scale":{"domain":[2,24],"nice":false,"zero":false},"axis":{"orient":"bottom","values":[4,8,12,16,20],"offset":-4,"tickSize":8,"labels":false,"title":null}},"y":{"field":"y","type":"quantitative","scale":{"domain":[0.585,1.203],"nice":false,"zero":false},"axis":{"orient":"right","values":[0.6,0.8,1.0],"offset":-4,"tickSize":8,"labels":false,"title":null}}}},
{"data":{"name":"lines"},"transform":[{"filter":"datum.p==2 && datum.s=='R' && datum.m=='r'"}],"mark":{"type":"line","color":"#ff0000"},"encoding":{"x":{"field":"x","type":"quantitative","scale":{"domain":[2,24],"nice":false,"zero":false},"axis":{"orient":"top","values":[4,8,12,16,20],"offset":-4,"tickSize":8,"labels":false,"title":null}},"y":{"field":"y","type":"quantitative","scale":{"domain":[0.585,1.203],"nice":false,"zero":false},"axis":{"orient":"left","values":[0.7,0.9,1.1],"offset":-2.5,"tickSize":5,"labels":false,"title":null}}}},
{"data":{"name":"pts"},"transform":[{"filter":"datum.p==2 && datum.s=='R' && isValid(datum.lo)"}],"mark":{"type":"rule","color":"black","strokeWidth":1},"encoding":{"x":{"field":"x","type":"quantitative","scale":{"domain":[2,24],"nice":false,"zero":false},"axis":{"orient":"bottom","values":[3,5,6,7,9,10,11,13,14,15,17,18,19,21,22,23],"offset":-2.5,"tickSize":5,"labels":false,"title":null}},"y":{"field":"lo","type":"quantitative","scale":{"domain":[0.585,1.203],"nice":false,"zero":false},"axis":{"orient":"right","values":[0.7,0.9,1.1],"offset":-2.5,"tickSize":5,"labels":false,"title":null}},"y2":{"field":"hi"}}},
{"data":{"name":"pts"},"transform":[{"filter":"datum.p==2 && datum.s=='R' && isValid(datum.lo)"},{"fold":["lo","hi"],"as":["k","v"]}],"mark":{"type":"tick","orient":"horizontal","size":7,"thickness":1,"color":"black"},"encoding":{"x":{"field":"x","type":"quantitative","scale":{"domain":[2,24],"nice":false,"zero":false},"axis":null},"y":{"field":"v","type":"quantitative","scale":{"domain":[0.585,1.203],"nice":false,"zero":false},"axis":null}}},
{"data":{"name":"pts"},"transform":[{"filter":"datum.p==2 && datum.s=='R'"}],"mark":{"type":"square","color":"black","size":90,"opacity":1},"encoding":{"x":{"field":"x","type":"quantitative","scale":{"domain":[2,24],"nice":false,"zero":false},"axis":{"orient":"top","values":[3,5,6,7,9,10,11,13,14,15,17,18,19,21,22,23],"offset":-2.5,"tickSize":5,"labels":false,"title":null}},"y":{"field":"y","type":"quantitative","scale":{"domain":[0.585,1.203],"nice":false,"zero":false},"axis":null}}},
{"data":{"values":[{}]},"mark":{"type":"rect","fill":"black","xOffset":3,"x2Offset":3,"yOffset":3,"y2Offset":3},"encoding":{"x":{"datum":-0.27,"type":"quantitative","scale":{"domain":[2,24],"nice":false,"zero":false},"axis":null},"x2":{"datum":3.862},"y":{"datum":1.146,"type":"quantitative","scale":{"domain":[0.585,1.203],"nice":false,"zero":false},"axis":null},"y2":{"datum":0.955}}},
{"data":{"values":[{}]},"mark":{"type":"rect","fill":"white","stroke":"black","strokeWidth":1},"encoding":{"x":{"datum":-0.27,"type":"quantitative","scale":{"domain":[2,24],"nice":false,"zero":false},"axis":null},"x2":{"datum":3.862},"y":{"datum":1.146,"type":"quantitative","scale":{"domain":[0.585,1.203],"nice":false,"zero":false},"axis":null},"y2":{"datum":0.955}}},
{"data":{"values":[{}]},"mark":{"type":"text","text":"π","font":"Liberation Serif","fontSize":44,"align":"center","baseline":"alphabetic","color":"black"},"encoding":{"x":{"datum":1.302,"type":"quantitative","scale":{"domain":[2,24],"nice":false,"zero":false},"axis":null},"y":{"datum":0.98,"type":"quantitative","scale":{"domain":[0.585,1.203],"nice":false,"zero":false},"axis":null}}},
{"data":{"values":[{}]},"mark":{"type":"text","text":"-","font":"Liberation Sans","fontSize":26,"align":"center","baseline":"alphabetic","color":"black"},"encoding":{"x":{"datum":2.204,"type":"quantitative","scale":{"domain":[2,24],"nice":false,"zero":false},"axis":null},"y":{"datum":1.06,"type":"quantitative","scale":{"domain":[0.585,1.203],"nice":false,"zero":false},"axis":null}}}
]},
{"width":379,"height":193,"view":{"fill":{"gradient":"linear","x1":0,"y1":0,"x2":0,"y2":1,"stops":[{"offset":0,"color":"#dbdbdb"},{"offset":1,"color":"#dfdfdf"}]},"stroke":"black","strokeWidth":2.5},"resolve":{"axis":{"x":"independent","y":"independent"}},
"layer":[
{"data":{"values":[{}]},"mark":{"type":"rule","color":"black","strokeWidth":1.3},"encoding":{"y":{"datum":1,"type":"quantitative","scale":{"domain":[0.595,1.205],"nice":false,"zero":false},"axis":{"orient":"left","values":[0.6,0.8,1.0],"offset":-4,"tickSize":8,"labels":true,"labelPadding":1,"format":".1f","title":null}}}},
{"data":{"name":"lines"},"transform":[{"filter":"datum.p==3 && datum.s=='L' && datum.m=='b'"}],"mark":{"type":"line","color":"#0000ff"},"encoding":{"x":{"field":"x","type":"quantitative","scale":{"domain":[0,1],"nice":false,"zero":false},"axis":{"orient":"bottom","values":[0.2,0.4,0.6,0.8],"offset":-4,"tickSize":8,"labels":false,"title":null}},"y":{"field":"y","type":"quantitative","scale":{"domain":[0.595,1.205],"nice":false,"zero":false},"axis":{"orient":"right","values":[0.6,0.8,1.0],"offset":-4,"tickSize":8,"labels":false,"title":null}}}},
{"data":{"name":"lines"},"transform":[{"filter":"datum.p==3 && datum.s=='L' && datum.m=='r'"}],"mark":{"type":"line","color":"#ff0000"},"encoding":{"x":{"field":"x","type":"quantitative","scale":{"domain":[0,1],"nice":false,"zero":false},"axis":{"orient":"top","values":[0.2,0.4,0.6,0.8],"offset":-4,"tickSize":8,"labels":false,"title":null}},"y":{"field":"y","type":"quantitative","scale":{"domain":[0.595,1.205],"nice":false,"zero":false},"axis":{"orient":"left","values":[0.7,0.9,1.1],"offset":-2.5,"tickSize":5,"labels":false,"title":null}}}},
{"data":{"name":"pts"},"transform":[{"filter":"datum.p==3 && datum.s=='L' && isValid(datum.lo)"}],"mark":{"type":"rule","color":"black","strokeWidth":1},"encoding":{"x":{"field":"x","type":"quantitative","scale":{"domain":[0,1],"nice":false,"zero":false},"axis":{"orient":"bottom","values":[0.1,0.3,0.5,0.7,0.9],"offset":-2.5,"tickSize":5,"labels":false,"title":null}},"y":{"field":"lo","type":"quantitative","scale":{"domain":[0.595,1.205],"nice":false,"zero":false},"axis":{"orient":"right","values":[0.7,0.9,1.1],"offset":-2.5,"tickSize":5,"labels":false,"title":null}},"y2":{"field":"hi"}}},
{"data":{"name":"pts"},"transform":[{"filter":"datum.p==3 && datum.s=='L' && isValid(datum.lo)"},{"fold":["lo","hi"],"as":["k","v"]}],"mark":{"type":"tick","orient":"horizontal","size":7,"thickness":1,"color":"black"},"encoding":{"x":{"field":"x","type":"quantitative","scale":{"domain":[0,1],"nice":false,"zero":false},"axis":null},"y":{"field":"v","type":"quantitative","scale":{"domain":[0.595,1.205],"nice":false,"zero":false},"axis":null}}},
{"data":{"name":"pts"},"transform":[{"filter":"datum.p==3 && datum.s=='L'"}],"mark":{"type":"square","color":"black","size":90,"opacity":1},"encoding":{"x":{"field":"x","type":"quantitative","scale":{"domain":[0,1],"nice":false,"zero":false},"axis":{"orient":"top","values":[0.1,0.3,0.5,0.7,0.9],"offset":-2.5,"tickSize":5,"labels":false,"title":null}},"y":{"field":"y","type":"quantitative","scale":{"domain":[0.595,1.205],"nice":false,"zero":false},"axis":null}}},
{"data":{"values":[{}]},"mark":{"type":"text","text":"R","font":"Liberation Sans","fontSize":42,"align":"center","baseline":"alphabetic","angle":270,"color":"black"},"encoding":{"x":{"datum":-0.2586,"type":"quantitative","scale":{"domain":[0,1],"nice":false,"zero":false},"axis":null},"y":{"datum":0.5824,"type":"quantitative","scale":{"domain":[0.595,1.205],"nice":false,"zero":false},"axis":null}}},
{"data":{"values":[{}]},"mark":{"type":"text","text":"h","font":"Liberation Sans","fontSize":26,"align":"left","baseline":"alphabetic","angle":270,"color":"black"},"encoding":{"x":{"datum":-0.314,"type":"quantitative","scale":{"domain":[0,1],"nice":false,"zero":false},"axis":null},"y":{"datum":0.6424,"type":"quantitative","scale":{"domain":[0.595,1.205],"nice":false,"zero":false},"axis":null}}},
{"data":{"values":[{}]},"mark":{"type":"text","text":"M","font":"Liberation Sans","fontSize":26,"align":"left","baseline":"alphabetic","angle":270,"color":"black"},"encoding":{"x":{"datum":-0.2375,"type":"quantitative","scale":{"domain":[0,1],"nice":false,"zero":false},"axis":null},"y":{"datum":0.636,"type":"quantitative","scale":{"domain":[0.595,1.205],"nice":false,"zero":false},"axis":null}}}
]},
{"width":378,"height":193,"view":{"fill":{"gradient":"linear","x1":0,"y1":0,"x2":0,"y2":1,"stops":[{"offset":0,"color":"#dbdbdb"},{"offset":1,"color":"#dfdfdf"}]},"stroke":"black","strokeWidth":2.5},"resolve":{"axis":{"x":"independent","y":"independent"}},
"layer":[
{"data":{"values":[{}]},"mark":{"type":"rule","color":"black","strokeWidth":1.3},"encoding":{"y":{"datum":1,"type":"quantitative","scale":{"domain":[0.595,1.205],"nice":false,"zero":false},"axis":{"orient":"left","values":[0.6,0.8,1.0],"offset":-4,"tickSize":8,"labels":false,"title":null}}}},
{"data":{"name":"lines"},"transform":[{"filter":"datum.p==3 && datum.s=='R' && datum.m=='b'"}],"mark":{"type":"line","color":"#0000ff"},"encoding":{"x":{"field":"x","type":"quantitative","scale":{"domain":[2,24],"nice":false,"zero":false},"axis":{"orient":"bottom","values":[4,8,12,16,20],"offset":-4,"tickSize":8,"labels":false,"title":null}},"y":{"field":"y","type":"quantitative","scale":{"domain":[0.595,1.205],"nice":false,"zero":false},"axis":{"orient":"right","values":[0.6,0.8,1.0],"offset":-4,"tickSize":8,"labels":false,"title":null}}}},
{"data":{"name":"lines"},"transform":[{"filter":"datum.p==3 && datum.s=='R' && datum.m=='r'"}],"mark":{"type":"line","color":"#ff0000"},"encoding":{"x":{"field":"x","type":"quantitative","scale":{"domain":[2,24],"nice":false,"zero":false},"axis":{"orient":"top","values":[4,8,12,16,20],"offset":-4,"tickSize":8,"labels":false,"title":null}},"y":{"field":"y","type":"quantitative","scale":{"domain":[0.595,1.205],"nice":false,"zero":false},"axis":{"orient":"left","values":[0.7,0.9,1.1],"offset":-2.5,"tickSize":5,"labels":false,"title":null}}}},
{"data":{"name":"pts"},"transform":[{"filter":"datum.p==3 && datum.s=='R' && isValid(datum.lo)"}],"mark":{"type":"rule","color":"black","strokeWidth":1},"encoding":{"x":{"field":"x","type":"quantitative","scale":{"domain":[2,24],"nice":false,"zero":false},"axis":{"orient":"bottom","values":[3,5,6,7,9,10,11,13,14,15,17,18,19,21,22,23],"offset":-2.5,"tickSize":5,"labels":false,"title":null}},"y":{"field":"lo","type":"quantitative","scale":{"domain":[0.595,1.205],"nice":false,"zero":false},"axis":{"orient":"right","values":[0.7,0.9,1.1],"offset":-2.5,"tickSize":5,"labels":false,"title":null}},"y2":{"field":"hi"}}},
{"data":{"name":"pts"},"transform":[{"filter":"datum.p==3 && datum.s=='R' && isValid(datum.lo)"},{"fold":["lo","hi"],"as":["k","v"]}],"mark":{"type":"tick","orient":"horizontal","size":7,"thickness":1,"color":"black"},"encoding":{"x":{"field":"x","type":"quantitative","scale":{"domain":[2,24],"nice":false,"zero":false},"axis":null},"y":{"field":"v","type":"quantitative","scale":{"domain":[0.595,1.205],"nice":false,"zero":false},"axis":null}}},
{"data":{"name":"pts"},"transform":[{"filter":"datum.p==3 && datum.s=='R'"}],"mark":{"type":"square","color":"black","size":90,"opacity":1},"encoding":{"x":{"field":"x","type":"quantitative","scale":{"domain":[2,24],"nice":false,"zero":false},"axis":{"orient":"top","values":[3,5,6,7,9,10,11,13,14,15,17,18,19,21,22,23],"offset":-2.5,"tickSize":5,"labels":false,"title":null}},"y":{"field":"y","type":"quantitative","scale":{"domain":[0.595,1.205],"nice":false,"zero":false},"axis":null}}},
{"data":{"values":[{}]},"mark":{"type":"rect","fill":"black","xOffset":3,"x2Offset":3,"yOffset":3,"y2Offset":3},"encoding":{"x":{"datum":-0.27,"type":"quantitative","scale":{"domain":[2,24],"nice":false,"zero":false},"axis":null},"x2":{"datum":4.095},"y":{"datum":1.17,"type":"quantitative","scale":{"domain":[0.595,1.205],"nice":false,"zero":false},"axis":null},"y2":{"datum":0.977}}},
{"data":{"values":[{}]},"mark":{"type":"rect","fill":"white","stroke":"black","strokeWidth":1},"encoding":{"x":{"datum":-0.27,"type":"quantitative","scale":{"domain":[2,24],"nice":false,"zero":false},"axis":null},"x2":{"datum":4.095},"y":{"datum":1.17,"type":"quantitative","scale":{"domain":[0.595,1.205],"nice":false,"zero":false},"axis":null},"y2":{"datum":0.977}}},
{"data":{"values":[{}]},"mark":{"type":"text","text":"K","font":"Liberation Sans","fontSize":44,"align":"left","baseline":"alphabetic","color":"black"},"encoding":{"x":{"datum":0.545,"type":"quantitative","scale":{"domain":[2,24],"nice":false,"zero":false},"axis":null},"y":{"datum":1.009,"type":"quantitative","scale":{"domain":[0.595,1.205],"nice":false,"zero":false},"axis":null}}},
{"data":{"values":[{}]},"mark":{"type":"text","text":"+","font":"Liberation Sans","fontSize":26,"align":"center","baseline":"alphabetic","color":"black"},"encoding":{"x":{"datum":2.844,"type":"quantitative","scale":{"domain":[2,24],"nice":false,"zero":false},"axis":null},"y":{"datum":1.083,"type":"quantitative","scale":{"domain":[0.595,1.205],"nice":false,"zero":false},"axis":null}}}
]},
{"width":379,"height":193,"view":{"fill":{"gradient":"linear","x1":0,"y1":0,"x2":0,"y2":1,"stops":[{"offset":0,"color":"#dfdfdf"},{"offset":1,"color":"#e4e4e4"}]},"stroke":"black","strokeWidth":2.5},"resolve":{"axis":{"x":"independent","y":"independent"}},
"layer":[
{"data":{"values":[{}]},"mark":{"type":"rule","color":"black","strokeWidth":1.3},"encoding":{"y":{"datum":1,"type":"quantitative","scale":{"domain":[0.4,1.205],"nice":false,"zero":false},"axis":{"orient":"left","values":[0.6,0.8,1.0],"offset":-4,"tickSize":8,"labels":true,"labelPadding":1,"format":".1f","title":null}}}},
{"data":{"name":"lines"},"transform":[{"filter":"datum.p==4 && datum.s=='L' && datum.m=='b'"}],"mark":{"type":"line","color":"#0000ff"},"encoding":{"x":{"field":"x","type":"quantitative","scale":{"domain":[0,1],"nice":false,"zero":false},"axis":{"orient":"bottom","values":[0.2,0.4,0.6,0.8],"offset":-4,"tickSize":8,"labels":false,"title":null}},"y":{"field":"y","type":"quantitative","scale":{"domain":[0.4,1.205],"nice":false,"zero":false},"axis":{"orient":"right","values":[0.6,0.8,1.0],"offset":-4,"tickSize":8,"labels":false,"title":null}}}},
{"data":{"name":"lines"},"transform":[{"filter":"datum.p==4 && datum.s=='L' && datum.m=='r'"}],"mark":{"type":"line","color":"#ff0000"},"encoding":{"x":{"field":"x","type":"quantitative","scale":{"domain":[0,1],"nice":false,"zero":false},"axis":{"orient":"top","values":[0.2,0.4,0.6,0.8],"offset":-4,"tickSize":8,"labels":false,"title":null}},"y":{"field":"y","type":"quantitative","scale":{"domain":[0.4,1.205],"nice":false,"zero":false},"axis":{"orient":"left","values":[0.5,0.7,0.9,1.1],"offset":-2.5,"tickSize":5,"labels":false,"title":null}}}},
{"data":{"name":"pts"},"transform":[{"filter":"datum.p==4 && datum.s=='L' && isValid(datum.lo)"}],"mark":{"type":"rule","color":"black","strokeWidth":1},"encoding":{"x":{"field":"x","type":"quantitative","scale":{"domain":[0,1],"nice":false,"zero":false},"axis":{"orient":"bottom","values":[0.1,0.3,0.5,0.7,0.9],"offset":-2.5,"tickSize":5,"labels":false,"title":null}},"y":{"field":"lo","type":"quantitative","scale":{"domain":[0.4,1.205],"nice":false,"zero":false},"axis":{"orient":"right","values":[0.5,0.7,0.9,1.1],"offset":-2.5,"tickSize":5,"labels":false,"title":null}},"y2":{"field":"hi"}}},
{"data":{"name":"pts"},"transform":[{"filter":"datum.p==4 && datum.s=='L' && isValid(datum.lo)"},{"fold":["lo","hi"],"as":["k","v"]}],"mark":{"type":"tick","orient":"horizontal","size":7,"thickness":1,"color":"black"},"encoding":{"x":{"field":"x","type":"quantitative","scale":{"domain":[0,1],"nice":false,"zero":false},"axis":null},"y":{"field":"v","type":"quantitative","scale":{"domain":[0.4,1.205],"nice":false,"zero":false},"axis":null}}},
{"data":{"name":"pts"},"transform":[{"filter":"datum.p==4 && datum.s=='L'"}],"mark":{"type":"square","color":"black","size":90,"opacity":1},"encoding":{"x":{"field":"x","type":"quantitative","scale":{"domain":[0,1],"nice":false,"zero":false},"axis":{"orient":"top","values":[0.1,0.3,0.5,0.7,0.9],"offset":-2.5,"tickSize":5,"labels":false,"title":null}},"y":{"field":"y","type":"quantitative","scale":{"domain":[0.4,1.205],"nice":false,"zero":false},"axis":null}}}
]},
{"width":378,"height":193,"view":{"fill":{"gradient":"linear","x1":0,"y1":0,"x2":0,"y2":1,"stops":[{"offset":0,"color":"#dfdfdf"},{"offset":1,"color":"#e4e4e4"}]},"stroke":"black","strokeWidth":2.5},"resolve":{"axis":{"x":"independent","y":"independent"}},
"layer":[
{"data":{"values":[{}]},"mark":{"type":"rule","color":"black","strokeWidth":1.3},"encoding":{"y":{"datum":1,"type":"quantitative","scale":{"domain":[0.4,1.205],"nice":false,"zero":false},"axis":{"orient":"left","values":[0.6,0.8,1.0],"offset":-4,"tickSize":8,"labels":false,"title":null}}}},
{"data":{"name":"lines"},"transform":[{"filter":"datum.p==4 && datum.s=='R' && datum.m=='b'"}],"mark":{"type":"line","color":"#0000ff"},"encoding":{"x":{"field":"x","type":"quantitative","scale":{"domain":[2,24],"nice":false,"zero":false},"axis":{"orient":"bottom","values":[4,8,12,16,20],"offset":-4,"tickSize":8,"labels":false,"title":null}},"y":{"field":"y","type":"quantitative","scale":{"domain":[0.4,1.205],"nice":false,"zero":false},"axis":{"orient":"right","values":[0.6,0.8,1.0],"offset":-4,"tickSize":8,"labels":false,"title":null}}}},
{"data":{"name":"lines"},"transform":[{"filter":"datum.p==4 && datum.s=='R' && datum.m=='r'"}],"mark":{"type":"line","color":"#ff0000"},"encoding":{"x":{"field":"x","type":"quantitative","scale":{"domain":[2,24],"nice":false,"zero":false},"axis":{"orient":"top","values":[4,8,12,16,20],"offset":-4,"tickSize":8,"labels":false,"title":null}},"y":{"field":"y","type":"quantitative","scale":{"domain":[0.4,1.205],"nice":false,"zero":false},"axis":{"orient":"left","values":[0.5,0.7,0.9,1.1],"offset":-2.5,"tickSize":5,"labels":false,"title":null}}}},
{"data":{"name":"pts"},"transform":[{"filter":"datum.p==4 && datum.s=='R' && isValid(datum.lo)"}],"mark":{"type":"rule","color":"black","strokeWidth":1},"encoding":{"x":{"field":"x","type":"quantitative","scale":{"domain":[2,24],"nice":false,"zero":false},"axis":{"orient":"bottom","values":[3,5,6,7,9,10,11,13,14,15,17,18,19,21,22,23],"offset":-2.5,"tickSize":5,"labels":false,"title":null}},"y":{"field":"lo","type":"quantitative","scale":{"domain":[0.4,1.205],"nice":false,"zero":false},"axis":{"orient":"right","values":[0.5,0.7,0.9,1.1],"offset":-2.5,"tickSize":5,"labels":false,"title":null}},"y2":{"field":"hi"}}},
{"data":{"name":"pts"},"transform":[{"filter":"datum.p==4 && datum.s=='R' && isValid(datum.lo)"},{"fold":["lo","hi"],"as":["k","v"]}],"mark":{"type":"tick","orient":"horizontal","size":7,"thickness":1,"color":"black"},"encoding":{"x":{"field":"x","type":"quantitative","scale":{"domain":[2,24],"nice":false,"zero":false},"axis":null},"y":{"field":"v","type":"quantitative","scale":{"domain":[0.4,1.205],"nice":false,"zero":false},"axis":null}}},
{"data":{"name":"pts"},"transform":[{"filter":"datum.p==4 && datum.s=='R'"}],"mark":{"type":"square","color":"black","size":90,"opacity":1},"encoding":{"x":{"field":"x","type":"quantitative","scale":{"domain":[2,24],"nice":false,"zero":false},"axis":{"orient":"top","values":[3,5,6,7,9,10,11,13,14,15,17,18,19,21,22,23],"offset":-2.5,"tickSize":5,"labels":false,"title":null}},"y":{"field":"y","type":"quantitative","scale":{"domain":[0.4,1.205],"nice":false,"zero":false},"axis":null}}},
{"data":{"values":[{}]},"mark":{"type":"rect","fill":"black","xOffset":3,"x2Offset":3,"yOffset":3,"y2Offset":3},"encoding":{"x":{"datum":-0.212,"type":"quantitative","scale":{"domain":[2,24],"nice":false,"zero":false},"axis":null},"x2":{"datum":3.63},"y":{"datum":1.159,"type":"quantitative","scale":{"domain":[0.4,1.205],"nice":false,"zero":false},"axis":null},"y2":{"datum":0.905}}},
{"data":{"values":[{}]},"mark":{"type":"rect","fill":"white","stroke":"black","strokeWidth":1},"encoding":{"x":{"datum":-0.212,"type":"quantitative","scale":{"domain":[2,24],"nice":false,"zero":false},"axis":null},"x2":{"datum":3.63},"y":{"datum":1.159,"type":"quantitative","scale":{"domain":[0.4,1.205],"nice":false,"zero":false},"axis":null},"y2":{"datum":0.905}}},
{"data":{"values":[{}]},"mark":{"type":"text","text":"K","font":"Liberation Sans","fontSize":44,"align":"left","baseline":"alphabetic","color":"black"},"encoding":{"x":{"datum":0.545,"type":"quantitative","scale":{"domain":[2,24],"nice":false,"zero":false},"axis":null},"y":{"datum":0.942,"type":"quantitative","scale":{"domain":[0.4,1.205],"nice":false,"zero":false},"axis":null}}},
{"data":{"values":[{}]},"mark":{"type":"text","text":"-","font":"Liberation Sans","fontSize":26,"align":"center","baseline":"alphabetic","color":"black"},"encoding":{"x":{"datum":2.64,"type":"quantitative","scale":{"domain":[2,24],"nice":false,"zero":false},"axis":null},"y":{"datum":1.055,"type":"quantitative","scale":{"domain":[0.4,1.205],"nice":false,"zero":false},"axis":null}}}
]},
{"width":379,"height":193,"view":{"fill":{"gradient":"linear","x1":0,"y1":0,"x2":0,"y2":1,"stops":[{"offset":0,"color":"#e4e4e4"},{"offset":1,"color":"#e8e8e8"}]},"stroke":"black","strokeWidth":2.5},"resolve":{"axis":{"x":"independent","y":"independent"}},
"layer":[
{"data":{"values":[{}]},"mark":{"type":"rule","color":"black","strokeWidth":1.3},"encoding":{"y":{"datum":1,"type":"quantitative","scale":{"domain":[0.49,1.405],"nice":false,"zero":false},"axis":{"orient":"left","values":[0.6,0.8,1.0,1.2],"offset":-4,"tickSize":8,"labels":true,"labelPadding":1,"format":".1f","title":null}}}},
{"data":{"name":"lines"},"transform":[{"filter":"datum.p==5 && datum.s=='L' && datum.m=='b'"}],"mark":{"type":"line","color":"#0000ff"},"encoding":{"x":{"field":"x","type":"quantitative","scale":{"domain":[0,1],"nice":false,"zero":false},"axis":{"orient":"bottom","values":[0.2,0.4,0.6,0.8],"offset":-4,"tickSize":8,"labels":false,"title":null}},"y":{"field":"y","type":"quantitative","scale":{"domain":[0.49,1.405],"nice":false,"zero":false},"axis":{"orient":"right","values":[0.6,0.8,1.0,1.2],"offset":-4,"tickSize":8,"labels":false,"title":null}}}},
{"data":{"name":"lines"},"transform":[{"filter":"datum.p==5 && datum.s=='L' && datum.m=='r'"}],"mark":{"type":"line","color":"#ff0000"},"encoding":{"x":{"field":"x","type":"quantitative","scale":{"domain":[0,1],"nice":false,"zero":false},"axis":{"orient":"top","values":[0.2,0.4,0.6,0.8],"offset":-4,"tickSize":8,"labels":false,"title":null}},"y":{"field":"y","type":"quantitative","scale":{"domain":[0.49,1.405],"nice":false,"zero":false},"axis":{"orient":"left","values":[0.5,0.7,0.9,1.1,1.3],"offset":-2.5,"tickSize":5,"labels":false,"title":null}}}},
{"data":{"name":"pts"},"transform":[{"filter":"datum.p==5 && datum.s=='L' && isValid(datum.lo)"}],"mark":{"type":"rule","color":"black","strokeWidth":1},"encoding":{"x":{"field":"x","type":"quantitative","scale":{"domain":[0,1],"nice":false,"zero":false},"axis":{"orient":"bottom","values":[0.1,0.3,0.5,0.7,0.9],"offset":-2.5,"tickSize":5,"labels":false,"title":null}},"y":{"field":"lo","type":"quantitative","scale":{"domain":[0.49,1.405],"nice":false,"zero":false},"axis":{"orient":"right","values":[0.5,0.7,0.9,1.1,1.3],"offset":-2.5,"tickSize":5,"labels":false,"title":null}},"y2":{"field":"hi"}}},
{"data":{"name":"pts"},"transform":[{"filter":"datum.p==5 && datum.s=='L' && isValid(datum.lo)"},{"fold":["lo","hi"],"as":["k","v"]}],"mark":{"type":"tick","orient":"horizontal","size":7,"thickness":1,"color":"black"},"encoding":{"x":{"field":"x","type":"quantitative","scale":{"domain":[0,1],"nice":false,"zero":false},"axis":null},"y":{"field":"v","type":"quantitative","scale":{"domain":[0.49,1.405],"nice":false,"zero":false},"axis":null}}},
{"data":{"name":"pts"},"transform":[{"filter":"datum.p==5 && datum.s=='L'"}],"mark":{"type":"square","color":"black","size":90,"opacity":1},"encoding":{"x":{"field":"x","type":"quantitative","scale":{"domain":[0,1],"nice":false,"zero":false},"axis":{"orient":"top","values":[0.1,0.3,0.5,0.7,0.9],"offset":-2.5,"tickSize":5,"labels":false,"title":null}},"y":{"field":"y","type":"quantitative","scale":{"domain":[0.49,1.405],"nice":false,"zero":false},"axis":null}}}
]},
{"width":378,"height":193,"view":{"fill":{"gradient":"linear","x1":0,"y1":0,"x2":0,"y2":1,"stops":[{"offset":0,"color":"#e4e4e4"},{"offset":1,"color":"#e8e8e8"}]},"stroke":"black","strokeWidth":2.5},"resolve":{"axis":{"x":"independent","y":"independent"}},
"layer":[
{"data":{"values":[{}]},"mark":{"type":"rule","color":"black","strokeWidth":1.3},"encoding":{"y":{"datum":1,"type":"quantitative","scale":{"domain":[0.49,1.405],"nice":false,"zero":false},"axis":{"orient":"left","values":[0.6,0.8,1.0,1.2],"offset":-4,"tickSize":8,"labels":false,"title":null}}}},
{"data":{"name":"lines"},"transform":[{"filter":"datum.p==5 && datum.s=='R' && datum.m=='b'"}],"mark":{"type":"line","color":"#0000ff"},"encoding":{"x":{"field":"x","type":"quantitative","scale":{"domain":[2,24],"nice":false,"zero":false},"axis":{"orient":"bottom","values":[4,8,12,16,20],"offset":-4,"tickSize":8,"labels":false,"title":null}},"y":{"field":"y","type":"quantitative","scale":{"domain":[0.49,1.405],"nice":false,"zero":false},"axis":{"orient":"right","values":[0.6,0.8,1.0,1.2],"offset":-4,"tickSize":8,"labels":false,"title":null}}}},
{"data":{"name":"lines"},"transform":[{"filter":"datum.p==5 && datum.s=='R' && datum.m=='r'"}],"mark":{"type":"line","color":"#ff0000"},"encoding":{"x":{"field":"x","type":"quantitative","scale":{"domain":[2,24],"nice":false,"zero":false},"axis":{"orient":"top","values":[4,8,12,16,20],"offset":-4,"tickSize":8,"labels":false,"title":null}},"y":{"field":"y","type":"quantitative","scale":{"domain":[0.49,1.405],"nice":false,"zero":false},"axis":{"orient":"left","values":[0.5,0.7,0.9,1.1,1.3],"offset":-2.5,"tickSize":5,"labels":false,"title":null}}}},
{"data":{"name":"pts"},"transform":[{"filter":"datum.p==5 && datum.s=='R' && isValid(datum.lo)"}],"mark":{"type":"rule","color":"black","strokeWidth":1},"encoding":{"x":{"field":"x","type":"quantitative","scale":{"domain":[2,24],"nice":false,"zero":false},"axis":{"orient":"bottom","values":[3,5,6,7,9,10,11,13,14,15,17,18,19,21,22,23],"offset":-2.5,"tickSize":5,"labels":false,"title":null}},"y":{"field":"lo","type":"quantitative","scale":{"domain":[0.49,1.405],"nice":false,"zero":false},"axis":{"orient":"right","values":[0.5,0.7,0.9,1.1,1.3],"offset":-2.5,"tickSize":5,"labels":false,"title":null}},"y2":{"field":"hi"}}},
{"data":{"name":"pts"},"transform":[{"filter":"datum.p==5 && datum.s=='R' && isValid(datum.lo)"},{"fold":["lo","hi"],"as":["k","v"]}],"mark":{"type":"tick","orient":"horizontal","size":7,"thickness":1,"color":"black"},"encoding":{"x":{"field":"x","type":"quantitative","scale":{"domain":[2,24],"nice":false,"zero":false},"axis":null},"y":{"field":"v","type":"quantitative","scale":{"domain":[0.49,1.405],"nice":false,"zero":false},"axis":null}}},
{"data":{"name":"pts"},"transform":[{"filter":"datum.p==5 && datum.s=='R'"}],"mark":{"type":"square","color":"black","size":90,"opacity":1},"encoding":{"x":{"field":"x","type":"quantitative","scale":{"domain":[2,24],"nice":false,"zero":false},"axis":{"orient":"top","values":[3,5,6,7,9,10,11,13,14,15,17,18,19,21,22,23],"offset":-2.5,"tickSize":5,"labels":false,"title":null}},"y":{"field":"y","type":"quantitative","scale":{"domain":[0.49,1.405],"nice":false,"zero":false},"axis":null}}},
{"data":{"values":[{}]},"mark":{"type":"rect","fill":"black","xOffset":3,"x2Offset":3,"yOffset":3,"y2Offset":3},"encoding":{"x":{"datum":0.196,"type":"quantitative","scale":{"domain":[2,24],"nice":false,"zero":false},"axis":null},"x2":{"datum":4.037},"y":{"datum":1.339,"type":"quantitative","scale":{"domain":[0.49,1.405],"nice":false,"zero":false},"axis":null},"y2":{"datum":1.083}}},
{"data":{"values":[{}]},"mark":{"type":"rect","fill":"white","stroke":"black","strokeWidth":1},"encoding":{"x":{"datum":0.196,"type":"quantitative","scale":{"domain":[2,24],"nice":false,"zero":false},"axis":null},"x2":{"datum":4.037},"y":{"datum":1.339,"type":"quantitative","scale":{"domain":[0.49,1.405],"nice":false,"zero":false},"axis":null},"y2":{"datum":1.083}}},
{"data":{"values":[{}]},"mark":{"type":"text","text":"p","font":"Liberation Sans","fontSize":46,"align":"center","baseline":"alphabetic","color":"black"},"encoding":{"x":{"datum":1.884,"type":"quantitative","scale":{"domain":[2,24],"nice":false,"zero":false},"axis":null},"y":{"datum":1.139,"type":"quantitative","scale":{"domain":[0.49,1.405],"nice":false,"zero":false},"axis":null}}}
]},
{"width":379,"height":194,"view":{"fill":{"gradient":"linear","x1":0,"y1":0,"x2":0,"y2":1,"stops":[{"offset":0,"color":"#e8e8e8"},{"offset":1,"color":"#ececec"}]},"stroke":"black","strokeWidth":2.5},"resolve":{"axis":{"x":"independent","y":"independent"}},
"layer":[
{"data":{"values":[{}]},"mark":{"type":"rule","color":"black","strokeWidth":1.3},"encoding":{"y":{"datum":1,"type":"quantitative","scale":{"domain":[0.4,1.21],"nice":false,"zero":false},"axis":{"orient":"left","values":[0.4,0.6,0.8,1.0],"offset":-4,"tickSize":8,"labels":true,"labelPadding":1,"format":".1f","title":null}}}},
{"data":{"name":"lines"},"transform":[{"filter":"datum.p==6 && datum.s=='L' && datum.m=='b'"}],"mark":{"type":"line","color":"#0000ff"},"encoding":{"x":{"field":"x","type":"quantitative","scale":{"domain":[0,1],"nice":false,"zero":false},"axis":{"orient":"bottom","values":[0.2,0.4,0.6,0.8],"offset":-4,"tickSize":8,"labels":true,"labelPadding":2,"format":".1f","title":null}},"y":{"field":"y","type":"quantitative","scale":{"domain":[0.4,1.21],"nice":false,"zero":false},"axis":{"orient":"right","values":[0.4,0.6,0.8,1.0],"offset":-4,"tickSize":8,"labels":false,"title":null}}}},
{"data":{"name":"lines"},"transform":[{"filter":"datum.p==6 && datum.s=='L' && datum.m=='r'"}],"mark":{"type":"line","color":"#ff0000"},"encoding":{"x":{"field":"x","type":"quantitative","scale":{"domain":[0,1],"nice":false,"zero":false},"axis":{"orient":"top","values":[0.2,0.4,0.6,0.8],"offset":-4,"tickSize":8,"labels":false,"title":null}},"y":{"field":"y","type":"quantitative","scale":{"domain":[0.4,1.21],"nice":false,"zero":false},"axis":{"orient":"left","values":[0.5,0.7,0.9,1.1],"offset":-2.5,"tickSize":5,"labels":false,"title":null}}}},
{"data":{"name":"pts"},"transform":[{"filter":"datum.p==6 && datum.s=='L' && isValid(datum.lo)"}],"mark":{"type":"rule","color":"black","strokeWidth":1},"encoding":{"x":{"field":"x","type":"quantitative","scale":{"domain":[0,1],"nice":false,"zero":false},"axis":{"orient":"bottom","values":[0.1,0.3,0.5,0.7,0.9],"offset":-2.5,"tickSize":5,"labels":false,"title":null}},"y":{"field":"lo","type":"quantitative","scale":{"domain":[0.4,1.21],"nice":false,"zero":false},"axis":{"orient":"right","values":[0.5,0.7,0.9,1.1],"offset":-2.5,"tickSize":5,"labels":false,"title":null}},"y2":{"field":"hi"}}},
{"data":{"name":"pts"},"transform":[{"filter":"datum.p==6 && datum.s=='L' && isValid(datum.lo)"},{"fold":["lo","hi"],"as":["k","v"]}],"mark":{"type":"tick","orient":"horizontal","size":7,"thickness":1,"color":"black"},"encoding":{"x":{"field":"x","type":"quantitative","scale":{"domain":[0,1],"nice":false,"zero":false},"axis":null},"y":{"field":"v","type":"quantitative","scale":{"domain":[0.4,1.21],"nice":false,"zero":false},"axis":null}}},
{"data":{"name":"pts"},"transform":[{"filter":"datum.p==6 && datum.s=='L'"}],"mark":{"type":"square","color":"black","size":90,"opacity":1,"clip":true},"encoding":{"x":{"field":"x","type":"quantitative","scale":{"domain":[0,1],"nice":false,"zero":false},"axis":{"orient":"top","values":[0.1,0.3,0.5,0.7,0.9],"offset":-2.5,"tickSize":5,"labels":false,"title":null}},"y":{"field":"y","type":"quantitative","scale":{"domain":[0.4,1.21],"nice":false,"zero":false},"axis":null}}},
{"data":{"values":[{}]},"mark":{"type":"text","text":"z","font":"Liberation Sans","fontSize":40,"align":"left","baseline":"alphabetic","color":"black"},"encoding":{"x":{"datum":0.4406,"type":"quantitative","scale":{"domain":[0,1],"nice":false,"zero":false},"axis":null},"y":{"datum":0.02,"type":"quantitative","scale":{"domain":[0.4,1.21],"nice":false,"zero":false},"axis":null}}},
{"data":{"values":[{}]},"mark":{"type":"text","text":"h","font":"Liberation Sans","fontSize":28,"align":"left","baseline":"alphabetic","color":"black"},"encoding":{"x":{"datum":0.501,"type":"quantitative","scale":{"domain":[0,1],"nice":false,"zero":false},"axis":null},"y":{"datum":-0.025,"type":"quantitative","scale":{"domain":[0.4,1.21],"nice":false,"zero":false},"axis":null}}}
]},
{"width":378,"height":194,"view":{"fill":{"gradient":"linear","x1":0,"y1":0,"x2":0,"y2":1,"stops":[{"offset":0,"color":"#e8e8e8"},{"offset":1,"color":"#ececec"}]},"stroke":"black","strokeWidth":2.5},"resolve":{"axis":{"x":"independent","y":"independent"}},
"layer":[
{"data":{"values":[{}]},"mark":{"type":"rule","color":"black","strokeWidth":1.3},"encoding":{"y":{"datum":1,"type":"quantitative","scale":{"domain":[0.4,1.21],"nice":false,"zero":false},"axis":{"orient":"left","values":[0.4,0.6,0.8,1.0],"offset":-4,"tickSize":8,"labels":false,"title":null}}}},
{"data":{"name":"lines"},"transform":[{"filter":"datum.p==6 && datum.s=='R' && datum.m=='b'"}],"mark":{"type":"line","color":"#0000ff"},"encoding":{"x":{"field":"x","type":"quantitative","scale":{"domain":[2,24],"nice":false,"zero":false},"axis":{"orient":"bottom","values":[4,8,12,16,20,24],"offset":-4,"tickSize":8,"labels":true,"labelPadding":2,"format":"d","title":null}},"y":{"field":"y","type":"quantitative","scale":{"domain":[0.4,1.21],"nice":false,"zero":false},"axis":{"orient":"right","values":[0.4,0.6,0.8,1.0],"offset":-4,"tickSize":8,"labels":false,"title":null}}}},
{"data":{"name":"lines"},"transform":[{"filter":"datum.p==6 && datum.s=='R' && datum.m=='r'"}],"mark":{"type":"line","color":"#ff0000"},"encoding":{"x":{"field":"x","type":"quantitative","scale":{"domain":[2,24],"nice":false,"zero":false},"axis":{"orient":"top","values":[4,8,12,16,20],"offset":-4,"tickSize":8,"labels":false,"title":null}},"y":{"field":"y","type":"quantitative","scale":{"domain":[0.4,1.21],"nice":false,"zero":false},"axis":{"orient":"left","values":[0.5,0.7,0.9,1.1],"offset":-2.5,"tickSize":5,"labels":false,"title":null}}}},
{"data":{"name":"pts"},"transform":[{"filter":"datum.p==6 && datum.s=='R' && isValid(datum.lo)"}],"mark":{"type":"rule","color":"black","strokeWidth":1},"encoding":{"x":{"field":"x","type":"quantitative","scale":{"domain":[2,24],"nice":false,"zero":false},"axis":{"orient":"bottom","values":[3,5,6,7,9,10,11,13,14,15,17,18,19,21,22,23],"offset":-2.5,"tickSize":5,"labels":false,"title":null}},"y":{"field":"lo","type":"quantitative","scale":{"domain":[0.4,1.21],"nice":false,"zero":false},"axis":{"orient":"right","values":[0.5,0.7,0.9,1.1],"offset":-2.5,"tickSize":5,"labels":false,"title":null}},"y2":{"field":"hi"}}},
{"data":{"name":"pts"},"transform":[{"filter":"datum.p==6 && datum.s=='R' && isValid(datum.lo)"},{"fold":["lo","hi"],"as":["k","v"]}],"mark":{"type":"tick","orient":"horizontal","size":7,"thickness":1,"color":"black"},"encoding":{"x":{"field":"x","type":"quantitative","scale":{"domain":[2,24],"nice":false,"zero":false},"axis":null},"y":{"field":"v","type":"quantitative","scale":{"domain":[0.4,1.21],"nice":false,"zero":false},"axis":null}}},
{"data":{"name":"pts"},"transform":[{"filter":"datum.p==6 && datum.s=='R'"}],"mark":{"type":"square","color":"black","size":90,"opacity":1},"encoding":{"x":{"field":"x","type":"quantitative","scale":{"domain":[2,24],"nice":false,"zero":false},"axis":{"orient":"top","values":[3,5,6,7,9,10,11,13,14,15,17,18,19,21,22,23],"offset":-2.5,"tickSize":5,"labels":false,"title":null}},"y":{"field":"y","type":"quantitative","scale":{"domain":[0.4,1.21],"nice":false,"zero":false},"axis":null}}},
{"data":{"values":[{}]},"mark":{"type":"rect","fill":"black","xOffset":3,"x2Offset":3,"yOffset":3,"y2Offset":3},"encoding":{"x":{"datum":0.196,"type":"quantitative","scale":{"domain":[2,24],"nice":false,"zero":false},"axis":null},"x2":{"datum":4.095},"y":{"datum":1.152,"type":"quantitative","scale":{"domain":[0.4,1.21],"nice":false,"zero":false},"axis":null},"y2":{"datum":0.93}}},
{"data":{"values":[{}]},"mark":{"type":"rect","fill":"white","stroke":"black","strokeWidth":1},"encoding":{"x":{"datum":0.196,"type":"quantitative","scale":{"domain":[2,24],"nice":false,"zero":false},"axis":null},"x2":{"datum":4.095},"y":{"datum":1.152,"type":"quantitative","scale":{"domain":[0.4,1.21],"nice":false,"zero":false},"axis":null},"y2":{"datum":0.93}}},
{"data":{"values":[{}]},"mark":{"type":"text","text":"p","font":"Liberation Sans","fontSize":46,"align":"center","baseline":"alphabetic","color":"black"},"encoding":{"x":{"datum":1.884,"type":"quantitative","scale":{"domain":[2,24],"nice":false,"zero":false},"axis":null},"y":{"datum":0.985,"type":"quantitative","scale":{"domain":[0.4,1.21],"nice":false,"zero":false},"axis":null}}},
{"data":{"values":[{}]},"mark":{"type":"rule","color":"black","strokeWidth":2.5},"encoding":{"x":{"datum":1.185,"type":"quantitative","scale":{"domain":[2,24],"nice":false,"zero":false},"axis":null},"x2":{"datum":2.64},"y":{"datum":1.097,"type":"quantitative","scale":{"domain":[0.4,1.21],"nice":false,"zero":false},"axis":null}}},
{"data":{"values":[{}]},"mark":{"type":"text","text":"ν","font":"Liberation Serif","fontSize":42,"align":"left","baseline":"alphabetic","color":"black"},"encoding":{"x":{"datum":8.984,"type":"quantitative","scale":{"domain":[2,24],"nice":false,"zero":false},"axis":null},"y":{"datum":0.0117,"type":"quantitative","scale":{"domain":[0.4,1.21],"nice":false,"zero":false},"axis":null}}},
{"data":{"values":[{}]},"mark":{"type":"text","text":"[GeV]","font":"Liberation Sans","fontSize":41,"align":"left","baseline":"alphabetic","color":"black"},"encoding":{"x":{"datum":10.61,"type":"quantitative","scale":{"domain":[2,24],"nice":false,"zero":false},"axis":null},"y":{"datum":0.0117,"type":"quantitative","scale":{"domain":[0.4,1.21],"nice":false,"zero":false},"axis":null}}}
]}
]
}
